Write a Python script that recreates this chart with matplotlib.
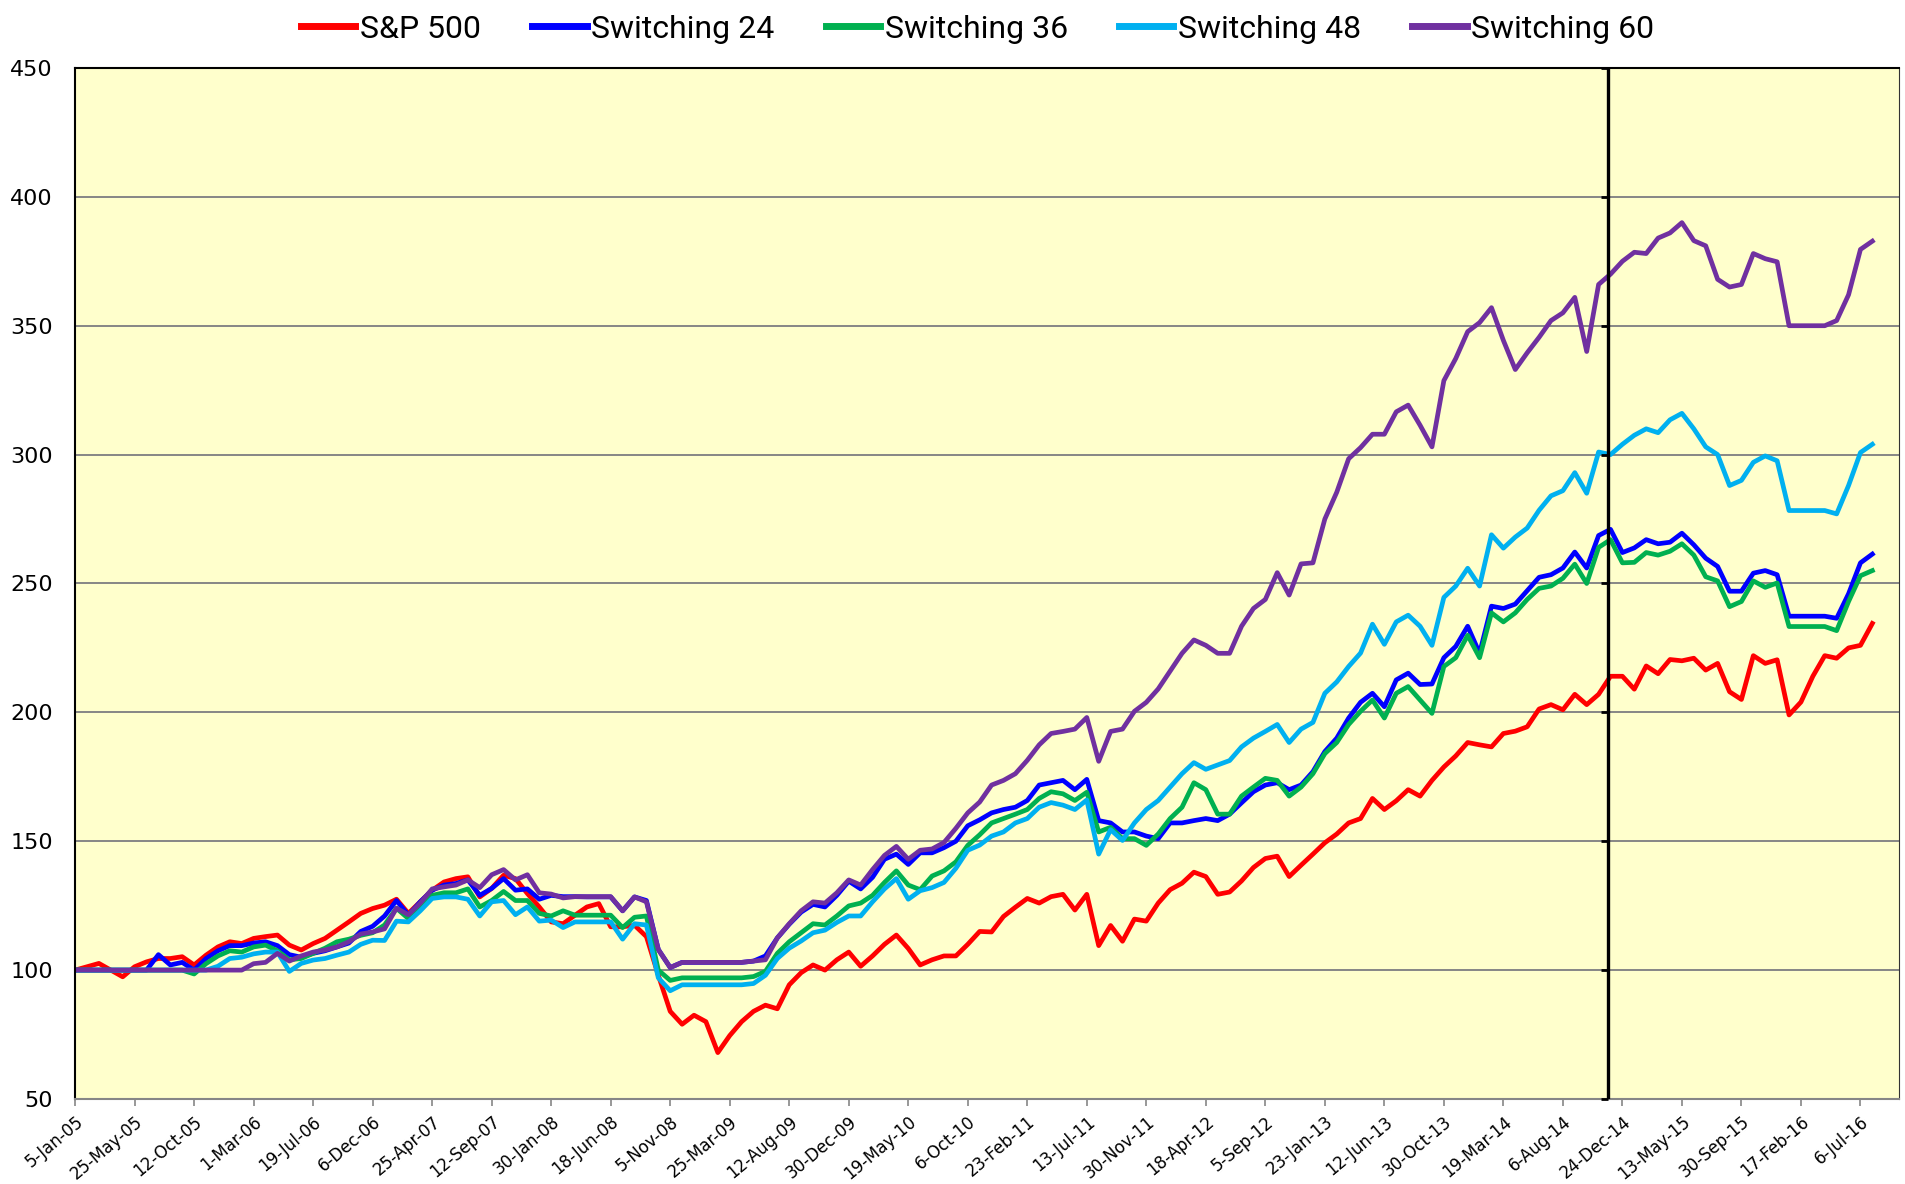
import matplotlib
matplotlib.use("Agg")
import matplotlib.pyplot as plt
import pandas as pd

# values every 4th week, starting 5-Jan-05 (index = 100)
sp500 = [
    100, 101.3, 102.6, 100, 97.4,
    101.3, 103.2, 104.5, 104.5, 105.2,
    102, 105.8, 109, 111, 110.3,
    112.3, 113, 113.6, 109.7, 107.8,
    110.3, 112.3, 115.5, 118.7, 122,
    123.9, 125.2, 127.5, 122, 126.5,
    131, 134.2, 135.5, 136.2, 128.4,
    131.7, 136.8, 135.5, 129.7, 124.5,
    118.7, 118, 121.3, 124.5, 125.8,
    116.8, 116.8, 117.4, 113, 98,
    84, 79, 82.5, 80, 68,
    74.6, 80, 84, 86.4, 85,
    94.3, 99, 102, 100, 104,
    107, 101.5, 105.5, 110, 113.6,
    108.4, 102, 104, 105.5, 105.5,
    110, 115, 114.8, 120.8, 124.4,
    127.8, 126, 128.5, 129.4, 123.3,
    129.4, 109.5, 117.3, 111.2, 119.8,
    119, 126, 131.2, 133.7, 138,
    136.3, 129.4, 130.3, 134.6, 139.8,
    143.3, 144.2, 136.3, 140.7, 145,
    149.4, 152.8, 157.1, 158.8, 166.6,
    162.3, 165.7, 170, 167.5, 173.6,
    178.8, 183.1, 188.3, 187.4, 186.6,
    191.8, 192.7, 194.4, 201.3, 203,
    201, 207, 203, 207, 214,
    214, 209, 218, 215, 220.5,
    220, 221, 216.4, 219, 208,
    205, 222, 219, 220.4, 199,
    204, 214, 222, 221, 225,
    226, 234.5,
]

switching_24 = [
    100, 100, 100, 100, 100,
    100, 100, 106, 102, 103,
    100, 104.5, 107.5, 109.5, 109.5,
    110.5, 111, 109.5, 106, 105,
    106.5, 107.5, 109, 110.5, 115,
    117, 121, 127, 121.3, 126.5,
    131, 133, 133.6, 135, 129,
    131.7, 135.5, 131, 131.5, 127.5,
    129, 128.5, 128.5, 128.4, 128.4,
    128.4, 123, 128.4, 127, 108,
    101, 103, 103, 103, 103,
    103, 103, 103.5, 105.5, 112.5,
    117.8, 122.5, 125.5, 124.5, 129,
    134.5, 131.5, 136, 143, 145,
    141, 145.5, 145.5, 147.5, 150,
    156, 158.3, 161, 162.3, 163.2,
    165.8, 171.8, 172.7, 173.6, 170,
    174, 158, 157.1, 153.6, 153.6,
    152, 151, 157.1, 157.1, 158,
    158.8, 158, 160.5, 164.9, 169.2,
    171.8, 172.7, 170, 171.8, 177,
    184.8, 190, 197.8, 203.9, 207.4,
    202.2, 212.6, 215.2, 210.8, 211,
    221.2, 225.6, 233.4, 222.9, 241.2,
    240.3, 242, 247.2, 252.4, 253.4,
    256, 262.2, 256, 268.6, 271,
    262, 263.8, 267, 265.4, 266,
    269.5, 265, 259.8, 256.6, 247,
    247, 254, 255, 253.4, 237.3,
    237.3, 237.3, 237.3, 236.5, 246,
    258, 261.4,
]

switching_36 = [
    100, 100, 100, 100, 100,
    100, 100, 100, 100, 100,
    98.5, 102.5, 105.5, 107.5, 107,
    109, 109.7, 107.5, 104, 104.5,
    106.5, 108.5, 111, 112, 113.5,
    114.5, 117.5, 124, 120, 124.5,
    129, 130, 130, 131.5, 124.5,
    127, 130.5, 127, 127, 122,
    121, 123, 121.3, 121.3, 121.3,
    121.3, 116.5, 120.5, 121, 100,
    96, 97, 97, 97, 97,
    97, 97, 97.5, 99.5, 106.5,
    111, 114.5, 118, 117.5, 121,
    124.9, 126, 129, 134, 138.5,
    133, 131.2, 136.5, 138.5, 142,
    148.4, 152.5, 157.1, 158.8, 160.5,
    162.3, 166.6, 169.2, 168.4, 165.8,
    169, 153.6, 155.4, 151, 151,
    148.4, 152.8, 158.8, 163.2, 172.7,
    170, 160.5, 160.5, 167.5, 171,
    174.4, 173.6, 167.5, 171, 176.2,
    184, 188.3, 195.3, 200.4, 204.8,
    197.8, 207.4, 210, 204.8, 199.6,
    217.8, 221.2, 229.9, 221.2, 238.6,
    235.1, 238.6, 243.8, 248.1, 249,
    252, 257.5, 250, 264, 267,
    258, 258.2, 262, 261, 262.5,
    265.4, 261, 252.6, 251, 241,
    243, 251, 248.5, 250.2, 233.3,
    233.3, 233.3, 233.3, 231.7, 243,
    253, 255,
]

switching_48 = [
    100, 100, 100, 100, 100,
    100, 100, 100, 100, 100,
    100, 100, 101.5, 104.5, 105,
    106.3, 107, 107, 99.5, 102.6,
    103.9, 104.5, 105.8, 107, 110,
    111.6, 111.5, 119, 118.7, 123,
    127.8, 128.4, 128.4, 127.5, 121,
    126.5, 127, 121.5, 124.5, 119,
    119.4, 116.5, 118.7, 118.7, 118.7,
    118.7, 112, 118, 117.5, 97,
    92, 94.3, 94.3, 94.3, 94.3,
    94.3, 94.3, 94.8, 98, 104.5,
    108.5, 111.3, 114.5, 115.5, 118.5,
    121, 121, 126.5, 131.5, 135.5,
    127.5, 130.8, 132, 134, 139.5,
    146.5, 148.5, 152, 153.6, 157.1,
    158.8, 163.2, 165, 164, 162.3,
    166, 145, 154.5, 150.3, 157.1,
    162.3, 165.8, 171, 176.2, 180.5,
    177.9, 179.6, 181.3, 186.6, 190,
    192.6, 195.3, 188.3, 193.5, 196.1,
    207.4, 211.8, 217.8, 223, 234.2,
    226.4, 235.1, 237.7, 233.4, 226,
    244.6, 249, 255.9, 249, 268.9,
    263.7, 268, 271.5, 278.4, 284,
    286, 293, 285, 301, 300,
    304, 307.5, 310, 308.5, 313.5,
    316, 310, 303, 300, 288,
    290, 297, 299.5, 297.6, 278.3,
    278.3, 278.3, 278.3, 277, 288,
    300.8, 304,
]

switching_60 = [
    100, 100, 100, 100, 100,
    100, 100, 100, 100, 100,
    100, 100, 100, 100, 100,
    102.5, 103, 106.5, 103.5, 105.5,
    107, 107.8, 109, 111, 114,
    114.8, 116, 124, 121.5, 126,
    131.5, 132.3, 133, 135, 132,
    137, 139, 135, 137, 130,
    129.5, 128, 128.5, 128.5, 128.5,
    128.5, 123, 128.4, 126.5, 108,
    101, 103, 103, 103, 103,
    103, 103, 103.5, 104, 112.5,
    118, 123, 126.5, 126, 130,
    135, 133, 139, 144.5, 148,
    143, 146.5, 147, 149.5, 155,
    161, 165.2, 171.8, 173.6, 176.2,
    181.4, 187.4, 191.8, 192.6, 193.5,
    198, 181, 192.6, 193.5, 200.4,
    203.9, 209.1, 216, 222.9, 228.1,
    226, 222.9, 222.9, 233.4, 240.3,
    243.8, 254.2, 245.5, 257.6, 258,
    275, 285.4, 298.4, 302.7, 307.9,
    307.9, 316.6, 319.2, 311.4, 303,
    328.7, 337.3, 347.7, 351.2, 357,
    344.3, 333, 339.5, 345.5, 352,
    355, 361, 340, 366, 370,
    375, 378.5, 378, 384, 386,
    390, 383, 381, 368, 365,
    366, 378, 376, 374.8, 350,
    350, 350, 350, 352, 362,
    379.6, 382.8,
]

dates = pd.date_range("2005-01-05", periods=len(sp500), freq="28D")
split_date = pd.Timestamp("2014-11-19")

series = [
    ("S&P 500", sp500, "#FF0000"),
    ("Switching 24", switching_24, "#0000FF"),
    ("Switching 36", switching_36, "#00B050"),
    ("Switching 48", switching_48, "#00B0F0"),
    ("Switching 60", switching_60, "#7030A0"),
]

fig = plt.figure(figsize=(19.06, 11.84), dpi=100)
ax = fig.add_axes([0.0394, 0.0718, 0.957, 0.8708])
ax.set_facecolor("#FFFFCC")

for name, vals, col in series:
    ax.plot(dates, vals, color=col, lw=3.4, label=name, solid_joinstyle="round")

ax.set_xlim(pd.Timestamp("2005-01-05"), pd.Timestamp("2016-10-05"))
ax.set_ylim(50, 450)
yt = list(range(50, 451, 50))
ax.set_yticks(yt)
ax.grid(axis="y", color="#868686", lw=1.4)
ax.set_axisbelow(True)

xt = pd.date_range("2005-01-05", "2016-07-06", freq="140D")
ax.set_xticks(xt)
ax.set_xticklabels([f"{d.day}-{d:%b-%y}" for d in xt], rotation=40, ha="right",
                   rotation_mode="anchor", fontsize=12)
ax.tick_params(axis="x", length=5, width=1.2, color="#868686", pad=5)
ax.tick_params(axis="y", length=0, pad=16, labelsize=16)

for side in ["top", "left"]:
    ax.spines[side].set_color("black")
    ax.spines[side].set_linewidth(1.5)
ax.spines["bottom"].set_color("#868686")
ax.spines["bottom"].set_linewidth(1.5)
ax.spines["right"].set_color("#333333")
ax.spines["right"].set_linewidth(0.8)

# y axis crossing drawn at the split date
ax.axvline(split_date, color="black", lw=2.4, zorder=5)
ax.plot([split_date] * len(yt), yt, ls="none", marker=0, ms=5, mew=2,
        color="black", clip_on=False, zorder=5)

leg = fig.legend(loc="upper center", bbox_to_anchor=(0.513, 1.012), ncol=5, frameon=False,
                 prop={"family": ["Roboto", "DejaVu Sans"], "size": 23},
                 handlelength=1.7, handletextpad=0.15, columnspacing=1.6)
for line in leg.get_lines():
    line.set_linewidth(5)

fig.savefig("out.png", dpi=100, facecolor="white")
